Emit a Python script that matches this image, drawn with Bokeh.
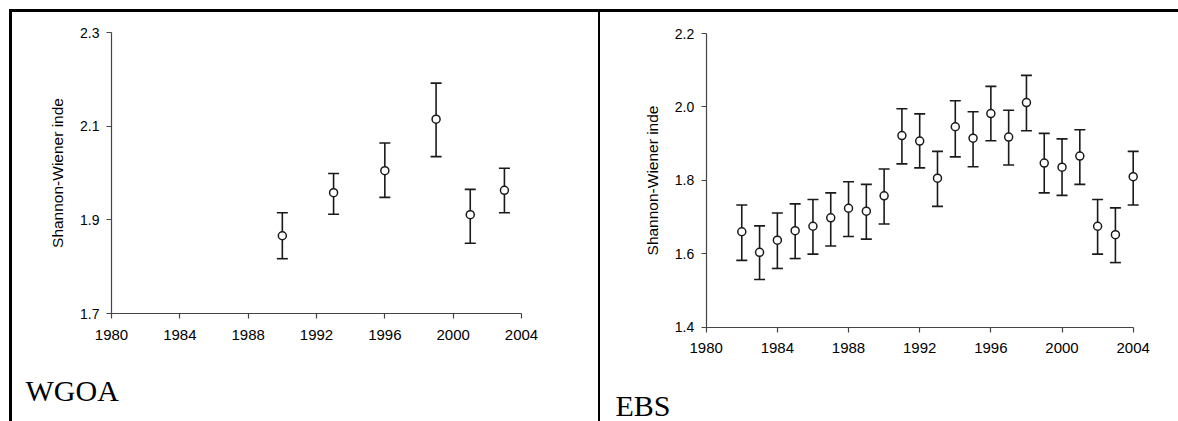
from bokeh.plotting import figure
from bokeh.models import (ColumnDataSource, Whisker, TeeHead, Label, FixedTicker,
                          PrintfTickFormatter, Spacer)
from bokeh.layouts import row, column
from bokeh.embed import file_html
from bokeh.resources import INLINE

# ---- data ----
wgoa_years = [1990, 1993, 1996, 1999, 2001, 2003]
wgoa_mean = [1.866, 1.958, 2.005, 2.115, 1.911, 1.963]
wgoa_lower = [1.817, 1.912, 1.948, 2.035, 1.850, 1.915]
wgoa_upper = [1.915, 1.999, 2.064, 2.192, 1.965, 2.010]

ebs_years = [1982, 1983, 1984, 1985, 1986, 1987, 1988, 1989, 1990, 1991, 1992, 1993,
             1994, 1995, 1996, 1997, 1998, 1999, 2000, 2001, 2002, 2003, 2004]
ebs_mean = [1.660, 1.604, 1.637, 1.663, 1.675, 1.698, 1.724, 1.716, 1.758, 1.922, 1.907, 1.806,
            1.946, 1.915, 1.982, 1.918, 2.012, 1.847, 1.836, 1.866, 1.675, 1.652, 1.810]
ebs_lower = [1.582, 1.530, 1.560, 1.587, 1.599, 1.621, 1.647, 1.640, 1.681, 1.845, 1.834, 1.729,
             1.864, 1.837, 1.908, 1.842, 1.935, 1.766, 1.759, 1.789, 1.599, 1.576, 1.733]
ebs_upper = [1.733, 1.676, 1.711, 1.736, 1.748, 1.766, 1.796, 1.789, 1.831, 1.995, 1.981, 1.879,
             2.017, 1.987, 2.056, 1.991, 2.086, 1.928, 1.913, 1.938, 1.748, 1.725, 1.879]

x_ticks = [1980, 1984, 1988, 1992, 1996, 2000, 2004]
wgoa_y_ticks = [1.7, 1.9, 2.1, 2.3]
ebs_y_ticks = [1.4, 1.6, 1.8, 2.0, 2.2]
y_label = "Shannon-Wiener inde"

SANS = "Liberation Sans"
SERIF = "Liberation Serif"
AXIS_COLOR = "#444444"
BAR_COLOR = "#1a1a1a"


def px_range(v0, p0, v1, p1, a, b):
    """Value range covering pixels a..b, given two (value, pixel) anchors."""
    k = (v1 - v0) / (p1 - p0)
    return (v0 + (a - p0) * k, v0 + (b - p0) * k)


def make_panel(years, mean, lower, upper, yticks, xspan, yspan, name, w, h,
               xanchor, yanchor, name_xy):
    # x anchors: (x0 pixel, x1 pixel) for xspan; y anchors: (pixel of top value, pixel of bottom value) from top
    xr = px_range(xspan[0], xanchor[0], xspan[1], xanchor[1], 0, w)
    # y: pixel measured from top; range start is at bottom (pixel h)
    ys, ye = px_range(yspan[1], yanchor[0], yspan[0], yanchor[1], h, 0)
    src = ColumnDataSource(dict(x=years, y=mean, lo=lower, hi=upper))
    p = figure(width=w, height=h, x_range=xr, y_range=(ys, ye), output_backend="svg",
               toolbar_location=None, min_border=0)
    p.title = None
    p.outline_line_color = None
    p.grid.visible = False
    p.background_fill_color = "white"
    p.border_fill_color = "white"

    wk = Whisker(base="x", upper="hi", lower="lo", source=src,
                 line_color=BAR_COLOR, line_width=1.6,
                 upper_head=TeeHead(size=11, line_color=BAR_COLOR, line_width=1.6),
                 lower_head=TeeHead(size=11, line_color=BAR_COLOR, line_width=1.6))
    p.add_layout(wk)
    p.scatter("x", "y", source=src, size=8, fill_color="white", line_color=BAR_COLOR,
              line_width=1.5)

    for ax in (p.xaxis[0], p.yaxis[0]):
        ax.axis_line_color = AXIS_COLOR
        ax.axis_line_width = 1.2
        ax.major_tick_line_color = AXIS_COLOR
        ax.major_tick_line_width = 1.2
        ax.major_tick_out = 5
        ax.major_tick_in = 0
        ax.minor_tick_line_color = None
        ax.major_label_text_font = SANS
        ax.major_label_text_color = "black"

    xa = p.xaxis[0]
    xa.ticker = FixedTicker(ticks=x_ticks)
    xa.formatter = PrintfTickFormatter(format="%d")
    xa.bounds = (xspan[0], xspan[1])
    xa.fixed_location = yspan[0]
    xa.major_label_text_font_size = "15px"
    xa.major_label_standoff = 11

    ya = p.yaxis[0]
    ya.ticker = FixedTicker(ticks=yticks)
    ya.formatter = PrintfTickFormatter(format="%.1f")
    ya.bounds = (yspan[0], yspan[1])
    ya.fixed_location = xspan[0]
    ya.major_label_text_font_size = "14px"
    ya.major_label_standoff = 7
    ya.axis_label = y_label
    ya.axis_label_text_font = SANS
    ya.axis_label_text_font_style = "normal"
    ya.axis_label_text_font_size = "15.5px"
    ya.axis_label_text_color = "black"
    ya.axis_label_standoff = 11

    lab = Label(x=name_xy[0], y=name_xy[1], x_units="screen", y_units="screen",
                text=name, text_font=SERIF, text_font_size="30px",
                text_color="black", text_baseline="alphabetic", text_align="left")
    p.add_layout(lab)
    return p


H = 409
left = make_panel(wgoa_years, wgoa_mean, wgoa_lower, wgoa_upper, wgoa_y_ticks,
                  (1980, 2004), (1.7, 2.3), "WGOA", 586, H,
                  (99, 509), (20, 301), (13, 31))
right = make_panel(ebs_years, ebs_mean, ebs_lower, ebs_upper, ebs_y_ticks,
                   (1980, 2004), (1.4, 2.2), "EBS", 578, H,
                   (105.7, 532.7), (21, 314.7), (15, 16))

top_line = Spacer(width=1169, height=3, styles={"background-color": "black"})
left_line = Spacer(width=3, height=H, styles={"background-color": "black"})
mid_line = Spacer(width=2, height=H, styles={"background-color": "black"})

layout = column(
    Spacer(width=1178, height=9),
    row(Spacer(width=9, height=412),
        column(top_line,
               row(left_line, left, mid_line, right))),
)

open("out.html", "w").write(file_html(layout, INLINE))
